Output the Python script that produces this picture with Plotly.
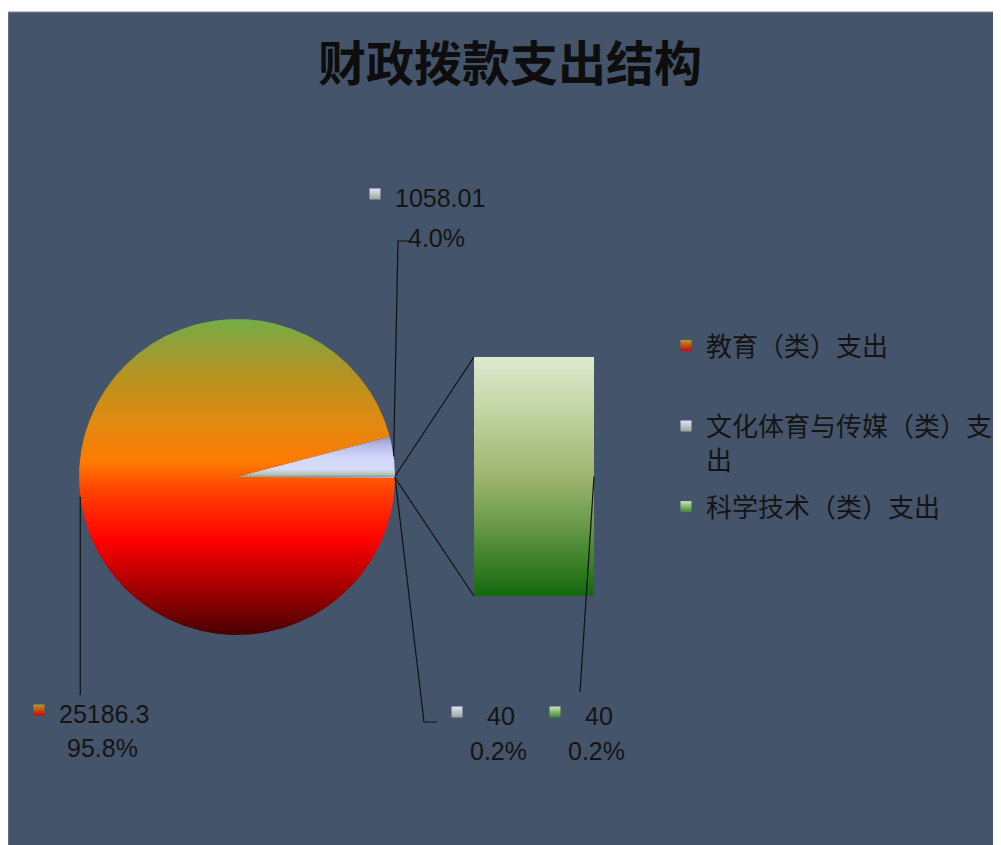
import math
import plotly.graph_objects as go

# ---------------- data ----------------
title_text = "财政拨款支出结构"
categories = ["教育（类）支出", "文化体育与传媒（类）支出", "科学技术（类）支出"]
values = [25186.3, 1058.01, 40]
# pie-of-bar: the last category is split out into the secondary bar
bar_categories = ["科学技术（类）支出"]
bar_values = [40]
legend_names = ["教育（类）支出<br> ", "文化体育与传媒（类）支<br>出", "科学技术（类）支出"]

# ---------------- layout constants ----------------
# coordinates below are screen pixels; the page body adds an 8 px offset
W, H = 1001, 845
PAGE_OFF = 8
X0_SCR = 8 + 0          # left edge of chart area on screen
YB = H + PAGE_OFF       # screen y of plot bottom
BG = "#44546a"
CX, CY, R = 237, YB - 477, 158
BAR_X0, BAR_X1 = 474, 594
BAR_Y0, BAR_Y1 = YB - 596, YB - 357
TXT = "#141414"
NUM_FONT = "Liberation Sans, Arial, sans-serif"
CJK_FONT = "Noto Sans CJK SC, sans-serif"

edu_scale = [[0, "#470000"], [0.11, "#8c0000"], [0.30, "#ff0000"], [0.46, "#ff4400"],
             [0.545, "#ff7a00"], [0.68, "#df8a12"], [0.81, "#b8921f"], [0.93, "#8ea13a"],
             [1, "#74ae46"]]
cult_scale = [[0, "#8aa58a"], [0.08, "#b8c8c0"], [0.2, "#d6dcfa"], [0.5, "#d2d6f8"],
              [0.8, "#b4b6e4"], [1, "#9396c8"]]
bar_scale = [[0, "#14680e"], [0.09, "#2c781f"], [0.30, "#6a9a4a"], [0.51, "#9fb672"],
             [0.79, "#c4d6a6"], [1, "#dde9cf"]]
marker_cols = [("#b4a02a", "#d40000"), ("#e0e4fc", "#9aa49a"), ("#cfe2b8", "#3a8a2a")]

total = sum(values)
other = sum(bar_values)
pie_vals = values[:len(values) - len(bar_categories)] + [other]


def pt(deg, r=R):
    a = math.radians(deg)
    return CX + r * math.cos(a), CY + r * math.sin(a)


def slice_poly(a0, a1):
    n = max(4, int(abs(a1 - a0) * 2))
    xs, ys = [CX], [CY]
    for i in range(n + 1):
        x, y = pt(a0 + (a1 - a0) * i / n)
        xs.append(x)
        ys.append(y)
    xs.append(CX)
    ys.append(CY)
    return xs, ys


# angles (degrees, counter-clockwise from east); "other" slice centred at east
other_deg = 360 * other / total
cult_a0 = other_deg / 2
cult_a1 = cult_a0 + 360 * pie_vals[1] / total
edu_a0, edu_a1 = cult_a1, 360 - other_deg / 2
angles = [(edu_a0, edu_a1), (cult_a0, cult_a1), (-other_deg / 2, other_deg / 2)]

fig = go.Figure()

# pie slices
scales = [edu_scale, cult_scale, cult_scale]
for i, (a0, a1) in enumerate(angles):
    xs, ys = slice_poly(a0, a1)
    fig.add_trace(go.Scatter(
        x=xs, y=ys, mode="lines", fill="toself", line=dict(width=0, color="rgba(0,0,0,0)"),
        fillgradient=dict(type="vertical", colorscale=scales[i], start=min(ys), stop=max(ys)),
        showlegend=False, hoverinfo="skip"))

# secondary bar (stacked from bar_values)
bar_total = sum(bar_values)
y_cur = BAR_Y0
for v in bar_values:
    h = (BAR_Y1 - BAR_Y0) * v / bar_total
    fig.add_trace(go.Scatter(
        x=[BAR_X0, BAR_X1, BAR_X1, BAR_X0, BAR_X0], y=[y_cur, y_cur, y_cur + h, y_cur + h, y_cur],
        mode="lines", fill="toself", line=dict(width=0, color="rgba(0,0,0,0)"),
        fillgradient=dict(type="vertical", colorscale=bar_scale, start=y_cur, stop=y_cur + h),
        showlegend=False, hoverinfo="skip"))
    y_cur += h

# connector lines pie -> bar
p_top = pt(other_deg / 2)
p_bot = pt(-other_deg / 2)
for p, by in [(p_top, BAR_Y1), (p_bot, BAR_Y0)]:
    fig.add_trace(go.Scatter(x=[p[0], BAR_X0], y=[p[1], by], mode="lines",
                             line=dict(color="#111111", width=1.2), showlegend=False, hoverinfo="skip"))

# data labels: value / percentage
lab_vals = [values[0], values[1], other, bar_values[0]]
lab_cols = [marker_cols[0], marker_cols[1], marker_cols[1], marker_cols[2]]
# label layout (screen pixel positions, y measured from top)
lab_pos = [
    dict(mx=39, my=710, vx=57, vy=714, px=102, py=748),
    dict(mx=375, my=194, vx=393, vy=198, px=436, py=238),
    dict(mx=457, my=712, vx=485, vy=716, px=498, py=751),
    dict(mx=555, my=712, vx=583, vy=716, px=596, py=751),
]
edu_mid = pt((edu_a0 + edu_a1) / 2)
cult_mid = pt((cult_a0 + cult_a1) / 2)
oth_mid = pt(0)
bar_mid = (BAR_X1, (BAR_Y0 + BAR_Y1) / 2)
leaders = [
    [edu_mid, (edu_mid[0], YB - 695)],
    [cult_mid, (398, YB - 241), (410, YB - 241)],
    [oth_mid, (424, YB - 722), (437, YB - 722)],
    [bar_mid, (580, YB - 692)],
]
for pts in leaders:
    fig.add_trace(go.Scatter(x=[p[0] for p in pts], y=[p[1] for p in pts], mode="lines",
                             line=dict(color="#111111", width=1.2), showlegend=False, hoverinfo="skip"))

annotations = []
for v, pos, (c_top, c_bot) in zip(lab_vals, lab_pos, lab_cols):
    fig.add_trace(go.Scatter(
        x=[pos["mx"]], y=[YB - pos["my"]], mode="markers",
        marker=dict(symbol="square", size=11, color=c_top,
                    gradient=dict(type="vertical", color=c_bot), line=dict(width=0)),
        showlegend=False, hoverinfo="skip"))
    annotations.append(dict(x=pos["vx"], y=YB - pos["vy"], xref="x", yref="y", text=f"{v:g}",
                            showarrow=False, xanchor="left", yanchor="middle",
                            font=dict(family=NUM_FONT, size=25, color=TXT)))
    annotations.append(dict(x=pos["px"], y=YB - pos["py"], xref="x", yref="y",
                            text=f"{v / total * 100:.1f}%", showarrow=False,
                            xanchor="center", yanchor="middle",
                            font=dict(family=NUM_FONT, size=25, color=TXT)))

# legend entries
for k, (name, (c_top, c_bot)) in enumerate(zip(legend_names, marker_cols)):
    fig.add_trace(go.Scatter(
        x=[None], y=[None], mode="markers", name=name, legendgroup=f"g{k}",
        marker=dict(symbol="square", size=11, color=c_top,
                    gradient=dict(type="vertical", color=c_bot), line=dict(width=0))))

fig.update_layout(
    width=W, height=H,
    margin=dict(l=0, r=0, t=4, b=0, autoexpand=False),
    paper_bgcolor="white", plot_bgcolor=BG,
    title=dict(text=title_text, x=502 / W, y=1 - 56 / H, xanchor="center", yanchor="middle",
               xref="container", yref="container",
               font=dict(family=CJK_FONT, size=48, color="#0d0d0d", weight="bold")),
    xaxis=dict(range=[X0_SCR, X0_SCR + W], visible=False, fixedrange=True),
    yaxis=dict(range=[0, H - 4], visible=False, fixedrange=True),
    showlegend=True,
    legend=dict(xref="paper", yref="paper", x=658 / W, y=1 - (314 - 4) / (H - 4),
                xanchor="left", yanchor="top", valign="top", bgcolor="rgba(0,0,0,0)",
                traceorder="grouped", tracegroupgap=10,
                font=dict(family=CJK_FONT, size=26, color=TXT), itemwidth=30),
    annotations=annotations,
    shapes=[dict(type="rect", xref="paper", yref="paper", x0=0, y0=0, x1=1.01, y1=1,
                 line=dict(color="#8a8a8a", width=1), layer="above")],
)

fig.write_html("out.html")
